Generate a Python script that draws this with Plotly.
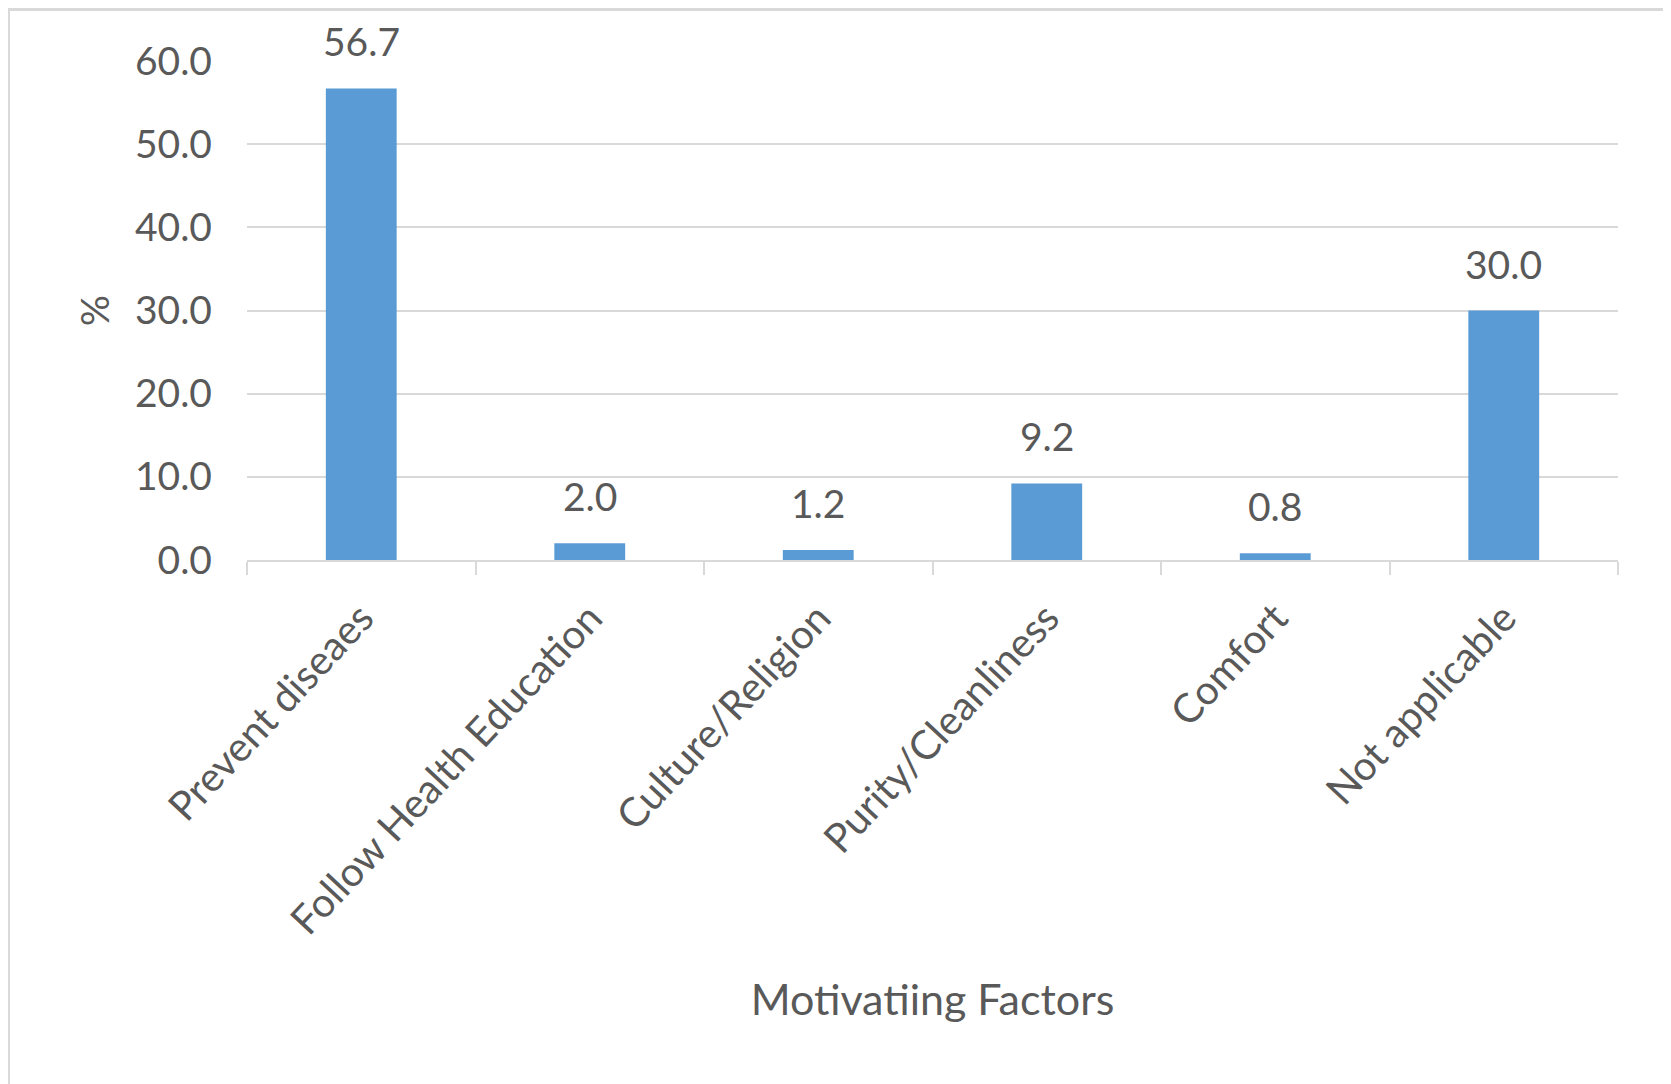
import plotly.graph_objects as go

categories = ["Prevent diseaes", "Follow Health Education", "Culture/Religion",
              "Purity/Cleanliness", "Comfort", "Not applicable"]
values = [56.7, 2.0, 1.2, 9.2, 0.8, 30.0]
y_ticks = [0, 10, 20, 30, 40, 50, 60]

TXT = "#595959"
GRID = "#D9D9D9"
FONT = "Lato"

fig = go.Figure()
fig.add_trace(go.Bar(x=categories, y=values, marker=dict(color="#5B9BD5", line=dict(width=0)),
                     hoverinfo="x+y"))

for c, v in zip(categories, values):
    fig.add_annotation(x=c, y=v, text=f"{v:.1f}", showarrow=False, yanchor="bottom",
                       yshift=22, font=dict(family=FONT, size=39, color=TXT))

# page has an 8px body margin; figure pixels = page pixels - 8
OFF = 8
W, H = 1671 - OFF, 1084 - OFF
L = 247 - OFF
T = 61 - OFF
R = W - (1618 - OFF)
B = H - (560 - OFF)

fig.update_layout(
    width=W, height=H,
    margin=dict(l=L, r=R, t=T, b=B, autoexpand=False),
    paper_bgcolor="white", plot_bgcolor="white",
    bargap=0.69, showlegend=False,
    font=dict(family=FONT, size=38, color=TXT),
    xaxis=dict(
        type="category", tickangle=-47, showgrid=False,
        showline=True, linecolor=GRID, linewidth=2,
        ticks="outside", tickson="boundaries", ticklen=13, tickcolor=GRID, tickwidth=2,
        ticklabelstandoff=16,
        tickfont=dict(family=FONT, size=40.5, color=TXT),
        title=dict(text="Motivatiing Factors", font=dict(family=FONT, size=43, color=TXT), standoff=42),
        automargin=False,
    ),
    yaxis=dict(
        range=[0, 60], tickvals=y_ticks, tickformat=".1f",
        showgrid=True, gridcolor=GRID, gridwidth=2, zeroline=False,
        showline=False, ticks="", ticklabelstandoff=34,
        tickfont=dict(family=FONT, size=39, color=TXT),
        title=dict(text="%", font=dict(family=FONT, size=39, color=TXT), standoff=13),
        automargin=False,
    ),
)

# outer chart-area border (page x 7..1666, top near page top, open at the bottom)
fig.add_shape(type="rect", xref="paper", yref="paper",
              xsizemode="pixel", ysizemode="pixel", xanchor=0, yanchor=0,
              x0=(7 - OFF) - L + 1.5, x1=(1666 - OFF) - L, y0=-B - 20, y1=(H - B) - 1.5,
              line=dict(color=GRID, width=3), fillcolor="rgba(0,0,0,0)", layer="below")

fig.write_html("out.html")
